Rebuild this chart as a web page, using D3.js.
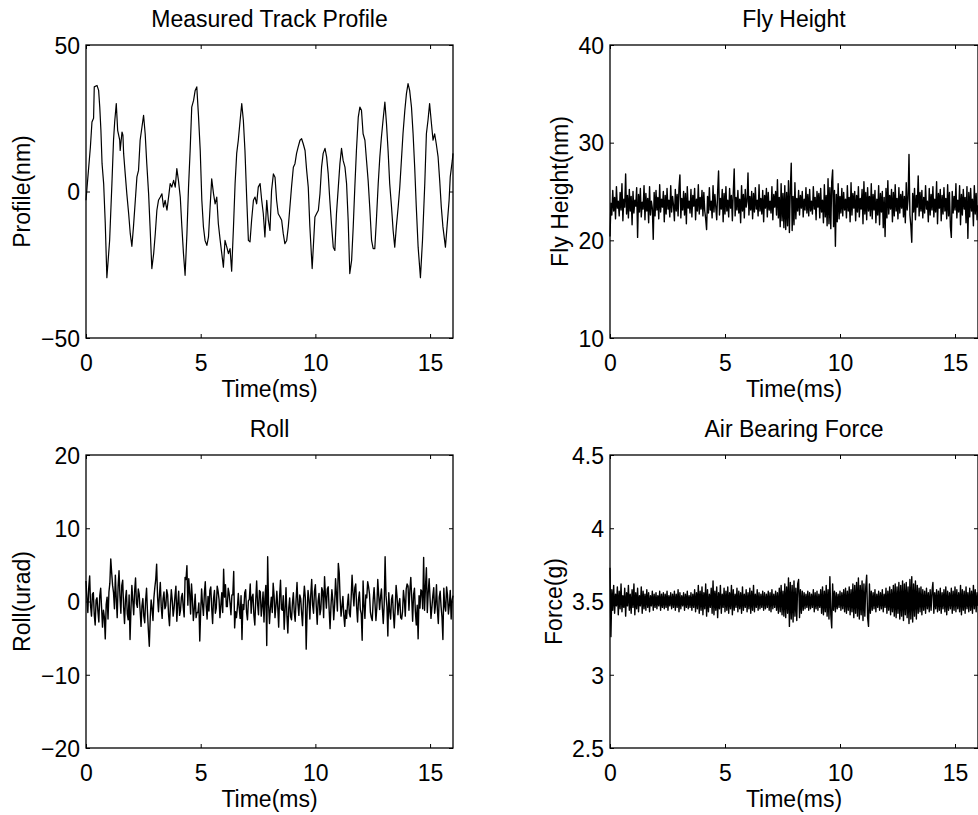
<!DOCTYPE html>
<html><head><meta charset="utf-8">
<script src="https://cdn.jsdelivr.net/npm/d3@7"></script>
<style>
body{margin:0;background:#fff}
svg text{font-family:"Liberation Sans",Arial,Helvetica,sans-serif;font-size:23px;fill:#000}
</style>
</head><body><svg id="chart" width="978" height="815"></svg>
<script>
// ---------- data ----------
const panelTitles = ["Measured Track Profile","Fly Height","Roll","Air Bearing Force"];
const yLabels = ["Profile(nm)","Fly Height(nm)","Roll(urad)","Force(g)"];
const xLabel = "Time(ms)";
const xDomain = [0,16];
const xTickValues = [0,5,10,15];
const yDomains = [[-50,50],[10,40],[-20,20],[2.5,4.5]];
const yTickValues = [[-50,0,50],[10,20,30,40],[-20,-10,0,10,20],[2.5,3,3.5,4,4.5]];

// Measured track profile: [time ms, profile nm]
const profileSamples = [
[0,-3],[0.07,3.8],[0.19,15],[0.26,23.7],[0.33,25],[0.36,35.7],[0.48,36.2],[0.55,34.5],[0.60,28.8],[0.65,20.9],
[0.70,9.5],[0.77,2.7],[0.84,-11],[0.91,-29.4],[1.03,-16.7],[1.13,2.7],[1.20,17.5],[1.25,23.7],[1.32,30],[1.38,20.9],
[1.47,17.5],[1.49,14],[1.57,20.3],[1.61,19.2],[1.64,13],[1.71,6],[1.78,-0.8],[1.86,-7.6],[1.93,-14.4],[2.00,-18.7],
[2.07,-12],[2.15,-3],[2.22,5],[2.29,7.2],[2.36,17.5],[2.44,22],[2.51,26],[2.58,19.7],[2.65,9.5],[2.73,-0.8],
[2.80,-13.3],[2.87,-26.3],[2.95,-21.2],[3.02,-14.4],[3.09,-6.4],[3.16,-3],[3.24,-1.9],[3.31,-0.8],[3.38,-5.3],[3.45,-3],
[3.53,-6.4],[3.60,-1.9],[3.67,2.7],[3.74,1.5],[3.82,3.8],[3.89,1.5],[3.96,7.8],[4.03,3.8],[4.11,-1.9],[4.18,-12.1],
[4.25,-21.2],[4.32,-28.6],[4.40,-14.4],[4.47,1.5],[4.54,14],[4.61,28.8],[4.69,31.1],[4.76,34.5],[4.83,35.7],[4.90,26.4],
[4.98,14],[5.05,-3],[5.12,-12.1],[5.19,-16.7],[5.27,-18.4],[5.34,-15.5],[5.41,-5.3],[5.48,4.3],[5.56,-0.8],[5.63,-4.2],
[5.70,-1.9],[5.77,-11],[5.85,-16.7],[5.92,-21.2],[5.99,-25.8],[6.06,-16.7],[6.14,-19],[6.21,-21.2],[6.28,-19.5],[6.35,-27.2],
[6.43,-12],[6.50,2.7],[6.57,13],[6.64,17.5],[6.72,24.3],[6.79,30],[6.86,24.3],[6.93,14],[7.01,-3],[7.08,-16.7],
[7.15,-17.2],[7.22,-9.8],[7.30,-3],[7.37,-1.9],[7.44,-4.2],[7.51,1.5],[7.59,2.7],[7.66,-3],[7.73,-7.6],[7.80,-15.5],
[7.88,-3],[7.95,-9.8],[8.02,-13.3],[8.09,0.3],[8.17,6],[8.24,4.9],[8.31,-3],[8.38,-7.6],[8.46,-8.7],[8.53,-9.8],
[8.60,-14.4],[8.67,-17.8],[8.75,-16.7],[8.82,-12],[8.89,-5.3],[8.96,1.5],[9.04,8.3],[9.11,9.5],[9.18,13],[9.25,15.2],
[9.33,17.5],[9.40,18],[9.47,16.3],[9.55,14],[9.62,7.2],[9.69,1.5],[9.76,-12],[9.86,-26.3],[9.91,-19],[9.98,-8.7],
[10.05,-7.6],[10.13,-6.4],[10.20,-0.8],[10.27,8.3],[10.34,13],[10.42,14.7],[10.49,11.8],[10.56,6],[10.63,-3],[10.71,-12],
[10.78,-19],[10.85,-20.1],[10.92,-7.6],[11.00,1.5],[11.07,9.5],[11.14,14.7],[11.21,10.6],[11.29,8.3],[11.36,2.7],[11.43,-9.8],
[11.50,-28],[11.58,-23.5],[11.65,-12],[11.72,1.5],[11.79,14],[11.87,25.4],[11.94,28.8],[12.01,27.7],[12.08,19.7],[12.16,17.5],
[12.23,10.6],[12.30,3.8],[12.37,-5.3],[12.45,-16.7],[12.52,-19.5],[12.59,-19.5],[12.66,-9.8],[12.74,2.7],[12.81,11.8],[12.88,18.6],
[12.95,24.3],[13.03,30.5],[13.10,23.2],[13.17,14],[13.24,2.7],[13.32,-5.3],[13.39,-13.3],[13.46,-19],[13.53,-12],[13.61,-5.3],
[13.68,1.5],[13.75,10.6],[13.82,19.7],[13.90,27.7],[13.97,33.4],[14.04,36.8],[14.11,34.5],[14.19,28.8],[14.26,19.7],[14.33,8.3],
[14.40,-5.3],[14.48,-19],[14.58,-29.4],[14.67,-16.7],[14.77,2.7],[14.84,19.7],[14.91,24.3],[14.98,30],[15.06,23.2],[15.13,17.5],
[15.20,19.7],[15.27,16.3],[15.35,11.8],[15.42,3.8],[15.49,-5.3],[15.56,-12],[15.67,-19],[15.74,-12],[15.83,-3],[15.88,5],
[15.97,10.6],[16.0,13]
];

// Noisy series, one sample every 0.04 ms (t = 0 ... 16 ms)
const sampleInterval = 0.04;
const flyHeightValues = [
20.4,23.8,22.6,25.1,23.0,24.4,22.2,25.5,23.3,24.0,
22.5,24.9,23.1,25.8,22.0,24.2,23.4,26.8,22.7,24.6,
22.3,25.2,23.0,24.5,21.6,25.0,22.8,24.1,23.5,25.4,
20.3,24.7,22.9,25.3,22.4,23.9,23.2,25.6,22.1,24.8,
23.0,24.3,21.8,25.5,22.6,24.0,23.3,20.1,24.9,22.5,
25.1,23.1,24.4,22.2,25.7,22.9,24.2,23.4,25.0,21.9,
24.6,22.7,25.3,23.2,24.1,22.4,25.6,22.9,24.5,23.6,
22.0,25.2,23.0,24.7,22.5,25.4,26.7,22.3,24.3,23.1,
25.0,22.6,24.8,21.7,25.5,23.3,24.0,22.8,25.2,22.4,
24.6,23.5,25.3,22.1,24.2,23.0,25.7,22.7,24.4,23.2,
25.1,22.5,24.9,23.0,22.2,21.1,24.5,22.8,25.4,23.1,
24.0,22.3,25.6,22.9,24.7,23.4,22.1,25.0,27.1,22.6,
24.3,23.2,25.2,21.9,24.8,22.7,25.5,23.0,24.1,22.4,
25.3,23.3,24.6,22.0,24.9,27.3,22.5,24.4,23.1,25.1,
22.8,24.2,21.8,25.6,23.0,24.7,22.3,25.2,23.4,24.0,
26.9,22.6,24.5,23.1,25.0,22.2,24.8,22.9,25.4,23.2,
24.1,22.5,25.7,23.0,24.3,22.7,25.1,21.9,24.6,23.3,
25.3,22.4,24.9,23.1,24.0,22.8,25.5,22.1,24.7,23.4,
25.0,22.6,26.2,22.3,24.4,21.4,25.8,22.0,24.8,21.3,
25.6,21.1,24.9,21.5,26.1,20.8,25.2,27.9,21.0,24.5,
21.6,25.9,22.2,24.3,23.0,25.1,22.6,24.6,23.3,25.0,
22.4,24.2,23.1,25.4,22.8,24.7,22.5,25.2,23.0,24.0,
22.7,25.5,23.2,24.4,22.1,25.0,23.4,24.8,22.3,25.3,
22.9,24.1,21.8,25.7,22.4,24.6,21.5,26.3,21.7,25.4,
21.2,26.0,27.2,21.4,25.1,19.4,24.7,21.9,25.8,22.2,
24.5,22.8,25.3,22.5,24.9,23.1,24.2,22.3,25.6,23.0,
24.4,21.9,25.9,22.6,24.8,23.3,25.0,22.0,24.6,22.9,
25.5,22.4,24.3,23.2,25.2,21.7,26.0,22.7,24.9,22.1,
25.4,23.0,24.5,22.5,25.8,22.2,24.7,23.1,25.1,21.8,
24.2,22.6,25.6,21.6,24.8,22.9,25.0,21.3,24.4,20.4,
25.3,22.3,26.1,22.7,24.6,23.2,25.2,21.9,24.9,22.5,
25.7,23.0,24.3,22.2,25.4,22.8,24.7,23.3,25.0,22.4,
24.5,21.8,25.9,23.1,24.2,28.8,22.6,21.5,19.8,24.8,
22.9,25.3,22.1,24.6,23.4,26.6,22.5,24.9,23.0,25.1,
22.3,24.4,22.8,25.6,23.2,24.0,21.9,25.3,22.6,24.7,
23.1,25.5,22.4,24.2,22.9,26.0,21.7,24.8,23.3,25.2,
22.0,24.6,22.7,25.4,23.0,24.3,22.2,25.7,22.5,24.9,
21.4,20.3,25.0,22.8,24.5,23.1,25.8,22.3,24.1,22.9,
25.6,21.6,24.7,22.6,25.2,23.2,24.4,21.8,25.5,20.2,
24.9,22.4,25.3,23.0,24.2,21.5,25.6,22.7,24.8,22.1,
23.6
];
const rollValues = [
2.8,0.4,-1.5,1.9,3.5,-0.6,-2.0,1.0,1.2,-1.8,
-3.2,0.2,0.5,-1.4,-2.8,0.8,1.8,-0.9,-3.5,-1.2,
-2.1,-5.1,-0.4,0.6,-2.4,1.3,2.5,5.8,3.9,2.2,
1.2,-1.0,3.6,0.4,-2.2,2.1,4.2,0.7,-1.6,2.2,
2.9,-0.8,-3.0,0.3,1.5,-1.7,-2.5,0.9,-5.2,-1.1,
2.2,0.1,-1.8,1.4,3.2,-0.3,-0.8,1.7,1.0,-1.3,
-3.4,-0.6,0.4,-2.0,-2.9,0.2,1.8,-1.4,-4.0,-6.1,
-2.3,0.2,-0.9,-2.6,0.5,1.9,3.0,5.1,0.6,-1.4,
0.8,2.6,-0.7,-2.3,0.4,1.3,-1.0,-0.6,1.6,0.9,
-1.8,-3.3,-0.5,1.6,0.2,-2.0,-0.9,0.8,2.1,-2.7,
-0.3,1.4,-1.9,-1.2,0.6,1.1,-0.8,-2.1,3.3,3.0,
4.9,-0.5,3.1,1.2,-1.7,2.4,0.3,-2.6,-1.0,1.0,
-2.2,-1.5,-1.5,-0.2,-5.4,-1.4,1.7,-0.4,-1.9,1.1,
2.7,-0.6,-2.4,0.7,-1.3,1.5,2.0,-0.9,-3.0,0.4,
1.5,-1.6,-0.9,2.1,1.4,0.3,-2.2,-0.5,1.2,-1.5,
4.4,0.6,2.3,-0.7,-0.7,1.8,1.1,-0.2,-1.8,0.9,
0.9,4.1,-3.6,-1.4,-2.2,-0.8,1.1,-0.9,-2.3,0.8,
-5.2,-0.4,-1.1,1.2,1.6,-1.5,-2.5,0.1,0.3,2.4,
-1.6,0.6,1.0,-1.9,-3.2,0.2,2.8,-0.3,-1.8,1.5,
1.3,-2.0,-0.6,1.3,-2.8,0.4,2.2,-6.0,6.1,-0.4,
-3.0,-0.8,0.6,-1.5,2.5,0.8,-2.2,-0.6,1.4,-0.8,
-3.5,0.7,2.9,-1.0,-1.2,0.8,-3.8,-1.1,1.9,-2.0,
-4.3,-0.9,0.5,-2.1,-2.5,-0.2,1.2,-1.5,-2.7,0.3,
2.6,-0.4,-1.9,0.9,0.4,-1.6,-3.3,0.2,2.1,0.6,
-6.5,-1.2,1.5,0.3,-2.4,1.0,3.0,-0.5,-1.6,1.4,
2.3,-0.7,-3.1,0.1,1.1,-1.8,-1.0,1.9,1.4,-2.2,
3.4,0.8,-0.9,1.7,2.0,-1.1,-3.7,-0.6,1.6,0.2,
-2.5,-0.4,3.1,0.9,-1.3,5.2,3.9,0.4,-2.0,-0.7,
0.7,-1.9,-3.4,-1.2,-2.3,-0.4,1.0,-1.6,-2.1,0.5,
3.6,1.2,-0.6,1.9,2.4,-0.8,-2.8,0.3,1.3,-1.1,
-1.7,-5.3,2.8,-0.5,-2.3,0.9,0.5,2.7,2.0,1.0,
-1.5,-2.2,-2.6,0.2,1.9,-0.3,-2.6,-0.8,3.0,0.9,
-1.1,0.6,1.7,-0.9,-3.0,-0.4,6.1,0.8,-0.7,-4.7,
1.2,-1.3,-2.4,0.3,0.9,-1.6,-3.6,-0.9,2.2,0.7,
-1.8,-0.3,0.4,-2.2,-2.4,-1.4,1.5,0.2,-2.0,1.7,
2.4,2.1,-1.2,1.6,3.3,0.5,-2.7,0.9,1.8,-1.4,
-3.2,-0.5,-5.1,0.8,-0.9,1.6,1.4,-1.0,6.0,-1.2,
2.0,4.6,-1.5,1.2,3.1,0.4,-2.3,-0.8,0.8,1.9,
-1.6,-0.4,2.3,-1.2,-3.0,0.6,1.4,-0.7,-2.1,-5.2,
1.8,-0.6,-1.3,2.0,0.9,-1.7,-0.5,1.5,-2.4,0.2,
0.8
];
const forceValues = [
3.73,3.26,3.58,3.44,3.61,3.42,3.55,3.47,3.60,3.41,
3.57,3.45,3.62,3.43,3.54,3.46,3.59,3.40,3.56,3.47,
3.61,3.44,3.55,3.42,3.58,3.46,3.62,3.41,3.56,3.45,
3.59,3.43,3.54,3.47,3.60,3.42,3.57,3.45,3.55,3.44,
3.58,3.46,3.56,3.43,3.54,3.47,3.57,3.44,3.55,3.46,
3.56,3.45,3.54,3.47,3.57,3.44,3.55,3.46,3.56,3.45,
3.55,3.46,3.57,3.44,3.54,3.47,3.56,3.45,3.55,3.46,
3.57,3.44,3.55,3.46,3.58,3.43,3.56,3.45,3.54,3.47,
3.56,3.44,3.55,3.46,3.57,3.45,3.54,3.46,3.56,3.44,
3.55,3.46,3.58,3.43,3.56,3.45,3.61,3.42,3.57,3.44,
3.60,3.41,3.56,3.45,3.62,3.40,3.58,3.43,3.55,3.46,
3.59,3.42,3.64,3.41,3.57,3.44,3.60,3.39,3.56,3.45,
3.61,3.42,3.55,3.46,3.59,3.43,3.57,3.44,3.60,3.42,
3.56,3.45,3.61,3.41,3.58,3.44,3.55,3.46,3.59,3.43,
3.57,3.45,3.56,3.42,3.60,3.44,3.55,3.46,3.58,3.43,
3.56,3.45,3.59,3.42,3.57,3.44,3.61,3.43,3.55,3.46,
3.58,3.44,3.56,3.45,3.55,3.46,3.57,3.44,3.56,3.45,
3.55,3.46,3.57,3.44,3.56,3.43,3.58,3.45,3.55,3.46,
3.57,3.44,3.56,3.42,3.59,3.43,3.61,3.41,3.57,3.40,
3.62,3.39,3.60,3.42,3.66,3.33,3.63,3.38,3.61,3.36,
3.64,3.40,3.59,3.37,3.62,3.65,3.39,3.58,3.42,3.57,
3.44,3.56,3.45,3.55,3.46,3.57,3.44,3.56,3.45,3.55,
3.46,3.58,3.43,3.56,3.45,3.57,3.44,3.55,3.46,3.58,
3.42,3.60,3.41,3.57,3.43,3.61,3.40,3.58,3.38,3.67,
3.41,3.32,3.62,3.44,3.57,3.43,3.56,3.45,3.55,3.46,
3.57,3.44,3.56,3.45,3.58,3.43,3.59,3.42,3.57,3.44,
3.60,3.41,3.58,3.43,3.62,3.39,3.61,3.42,3.63,3.40,
3.66,3.38,3.61,3.41,3.64,3.37,3.62,3.40,3.60,3.68,
3.39,3.33,3.62,3.42,3.57,3.44,3.56,3.45,3.58,3.43,
3.55,3.46,3.57,3.44,3.56,3.45,3.58,3.43,3.55,3.46,
3.59,3.42,3.57,3.44,3.60,3.41,3.58,3.43,3.61,3.40,
3.62,3.39,3.60,3.42,3.63,3.38,3.61,3.40,3.64,3.37,
3.62,3.41,3.63,3.39,3.60,3.35,3.65,3.38,3.67,3.36,
3.62,3.40,3.64,3.38,3.61,3.42,3.59,3.43,3.60,3.41,
3.58,3.44,3.57,3.42,3.59,3.45,3.56,3.43,3.58,3.44,
3.57,3.63,3.42,3.56,3.45,3.58,3.43,3.57,3.44,3.59,
3.42,3.56,3.45,3.58,3.43,3.60,3.41,3.57,3.44,3.56,
3.45,3.59,3.42,3.57,3.44,3.60,3.43,3.58,3.45,3.56,
3.43,3.61,3.41,3.58,3.44,3.57,3.42,3.60,3.45,3.56,
3.43,3.59,3.44,3.57,3.42,3.61,3.45,3.58,3.43,3.56,
3.47
];

// ---------- drawing ----------
const toSeries = vals => vals.map((v, i) => [i * sampleInterval, v]);
const panelData = [profileSamples, toSeries(flyHeightValues), toSeries(rollValues), toSeries(forceValues)];
const boxes = [
  {l:86, r:453, t:45, b:338},
  {l:610, r:978, t:45, b:338},
  {l:86, r:453, t:455, b:748},
  {l:610, r:978, t:455, b:748}
];
const fmt = v => (v < 0 ? "\u2212" : "") + Math.abs(v);
const svg = d3.select("#chart");
svg.append("rect").attr("width",978).attr("height",815).attr("fill","#fff");

panelData.forEach((data, k) => {
  const b = boxes[k];
  const x = d3.scaleLinear().domain(xDomain).range([b.l, b.r]);
  const y = d3.scaleLinear().domain(yDomains[k]).range([b.b, b.t]);
  const g = svg.append("g");

  g.append("path").datum(data)
    .attr("d", d3.line().x(d => x(d[0])).y(d => y(d[1])))
    .attr("fill","none").attr("stroke","#000").attr("stroke-width", k === 0 ? 1.2 : 1.4)
    .attr("stroke-linejoin","round");

  g.append("rect").attr("x",b.l).attr("y",b.t).attr("width",b.r-b.l).attr("height",b.b-b.t)
    .attr("fill","none").attr("stroke","#000").attr("stroke-width",1.3);

  const styleAxis = a => { a.select(".domain").remove(); a.selectAll(".tick line").attr("stroke","#000").attr("stroke-width",1); };

  const bottom = g.append("g").attr("transform",`translate(0,${b.b})`)
    .call(d3.axisBottom(x).tickValues(xTickValues).tickSizeInner(-4).tickSizeOuter(0).tickFormat(fmt));
  styleAxis(bottom);
  bottom.selectAll("text").attr("y",32.5).attr("dy",null);

  const top = g.append("g").attr("transform",`translate(0,${b.t})`)
    .call(d3.axisTop(x).tickValues(xTickValues).tickSizeInner(-4).tickSizeOuter(0).tickFormat(""));
  styleAxis(top);

  const left = g.append("g").attr("transform",`translate(${b.l},0)`)
    .call(d3.axisLeft(y).tickValues(yTickValues[k]).tickSizeInner(-4).tickSizeOuter(0).tickFormat(fmt));
  styleAxis(left);
  left.selectAll("text").attr("x",-6).attr("dy","0.36em");

  const right = g.append("g").attr("transform",`translate(${b.r},0)`)
    .call(d3.axisRight(y).tickValues(yTickValues[k]).tickSizeInner(-4).tickSizeOuter(0).tickFormat(""));
  styleAxis(right);

  [bottom, top, left, right].forEach(a => a.attr("font-size",null).attr("font-family",null));

  g.append("text").attr("x",(b.l+b.r)/2).attr("y",b.t-18).attr("text-anchor","middle").text(panelTitles[k]);
  g.append("text").attr("x",(b.l+b.r)/2).attr("y",b.b+58.5).attr("text-anchor","middle").text(xLabel);

  let minX = Infinity;
  left.selectAll("text").each(function(){ minX = Math.min(minX, this.getBBox().x); });
  const lx = b.l + minX - 10.5;
  g.append("text").attr("transform",`translate(${lx},${(b.t+b.b)/2}) rotate(-90)`)
    .attr("text-anchor","middle").text(yLabels[k]);
});
</script>
</body></html>
